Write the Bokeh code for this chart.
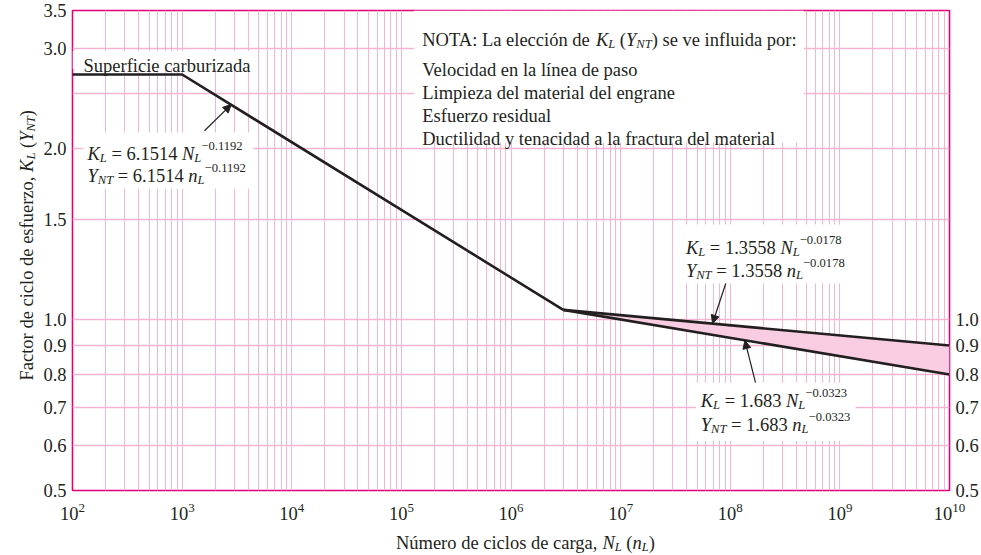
import math
from bokeh.plotting import figure
from bokeh.layouts import row, column
from bokeh.models import (Label, LogAxis, FixedTicker, PrintfTickFormatter, Arrow, NormalHead)
from bokeh.embed import file_html
from bokeh.resources import INLINE

# ---------------- data ----------------
cycles_carb = [1e2, 1e3, 3e6]          # carburized surface: flat then sloped
kl_carb = [2.70, 2.70, 1.04]
cycles_tail = [3e6, 1e10]               # high-cycle band
kl_upper = [1.04, 0.90]                 # K_L = 1.3558 N^-0.0178
kl_lower = [1.04, 0.80]                 # K_L = 1.683 N^-0.0323

y_tick_values = [0.5, 0.6, 0.7, 0.8, 0.9, 1.0, 1.5, 2.0, 3.0, 3.5]
y_grid_values = [0.5, 0.6, 0.7, 0.8, 0.9, 1.0, 1.5, 2.0, 2.5, 3.0, 3.5]
right_tick_values = [0.5, 0.6, 0.7, 0.8, 0.9, 1.0]
x_exponents = [2, 3, 4, 5, 6, 7, 8, 9, 10]

note_lines = ["Velocidad en la línea de paso",
              "Limpieza del material del engrane",
              "Esfuerzo residual",
              "Ductilidad y tenacidad a la fractura del material"]

# ---------------- style ----------------
FONT = "Liberation Serif"
TXT = "#231f20"
GRID = "#f4b4d2"
FRAME = "#e2007a"
BAND = "#f8cde1"
FS = 18.5

W_R = {' ': 250, '!': 333, '(': 333, ')': 333, ',': 250, '-': 333, '.': 250, ':': 278,
       '=': 564, '\u2212': 564, 'A': 722, 'D': 722, 'E': 611, 'F': 556, 'K': 722, 'L': 611,
       'N': 722, 'O': 722, 'S': 556, 'T': 611, 'V': 722, 'Y': 722,
       'a': 444, 'b': 500, 'c': 444, 'd': 500, 'e': 444, 'f': 333, 'g': 500, 'h': 500,
       'i': 278, 'j': 278, 'k': 500, 'l': 278, 'm': 778, 'n': 500, 'o': 500, 'p': 500,
       'q': 500, 'r': 333, 's': 389, 't': 278, 'u': 500, 'v': 500, 'w': 722, 'x': 500,
       'y': 500, 'z': 444, 'ú': 500, 'í': 278, 'ó': 500, 'é': 444, 'á': 444}
for d in "0123456789":
    W_R[d] = 500
W_I = {'K': 667, 'L': 556, 'N': 667, 'Y': 556, 'T': 556, 'n': 500}


def seg_width(text, italic, size):
    tot = 0
    for c in text:
        tot += (W_I.get(c, W_R.get(c, 500)) if italic else W_R.get(c, 500))
    return tot / 1000.0 * size


def rich(p, x, y, segs, size=FS, x0=0.0, y0=0.0, rotated=False):
    """segs: list of (text, italic, shift) with shift '', 'sub' or 'sup'."""
    off = 0.0
    for text, italic, shift in segs:
        s = size * 0.68 if shift else size
        lead = len(text) - len(text.lstrip(" "))
        off += seg_width(" " * lead, False, s)
        body = text.strip(" ")
        trail = len(text) - lead - len(body)
        dy = {'': 0.0, 'sub': -0.24 * size, 'sup': 0.43 * size}[shift]
        if rotated:
            xo, yo, ang = x0 - dy, y0 + off, math.pi / 2
        else:
            xo, yo, ang = x0 + off, y0 + dy, 0
        if body:
            p.add_layout(Label(x=x, y=y, x_offset=xo, y_offset=yo, text=body, angle=ang,
                               text_font=FONT, text_font_size=f"{s:.1f}px",
                               text_font_style="italic" if italic else "normal",
                               text_color=TXT, text_baseline="alphabetic",
                               text_align="left"))
        off += seg_width(body, italic, s) + seg_width(" " * trail, False, s)
    return off


YT_W = 40
MAIN_W, MAIN_H = 981 - YT_W, 530
p = figure(width=MAIN_W, height=MAIN_H, x_axis_type="log", y_axis_type="log",
           x_range=(1e2, 1e10), y_range=(0.5, 3.5),
           output_backend="svg", toolbar_location=None,
           min_border_left=71 - YT_W, min_border_right=32, min_border_top=10,
           min_border_bottom=40)
p.background_fill_color = "white"
p.border_fill_color = "white"
p.outline_line_color = FRAME
p.outline_line_width = 1.6

# axes
x_major = [10.0 ** e for e in x_exponents]
x_minor = [k * 10.0 ** e for e in x_exponents[:-1] for k in range(2, 10)]
p.xaxis.ticker = FixedTicker(ticks=x_major, minor_ticks=x_minor)
p.yaxis.ticker = FixedTicker(ticks=y_tick_values)
p.yaxis.formatter = PrintfTickFormatter(format="%.1f")

right = LogAxis(ticker=FixedTicker(ticks=right_tick_values),
                formatter=PrintfTickFormatter(format="%.1f"))
p.add_layout(right, "right")

for ax in [p.xaxis[0], p.yaxis[0], right]:
    ax.axis_line_color = None
    ax.major_tick_line_color = None
    ax.minor_tick_line_color = None
    ax.major_tick_out = 0
    ax.major_tick_in = 0
    ax.minor_tick_out = 0
    ax.minor_tick_in = 0
    ax.major_label_text_font = FONT
    ax.major_label_text_font_size = f"{FS}px"
    ax.major_label_text_color = TXT
    ax.major_label_standoff = 6
p.xaxis.major_label_standoff = 12

# grid
p.xgrid.ticker = FixedTicker(ticks=x_major, minor_ticks=x_minor)
p.xgrid.grid_line_color = GRID
p.xgrid.grid_line_width = 1
p.xgrid.minor_grid_line_color = GRID
p.xgrid.minor_grid_line_width = 1
p.ygrid.ticker = FixedTicker(ticks=y_grid_values)
p.ygrid.grid_line_color = GRID
p.ygrid.grid_line_width = 1.3

# white backing boxes for the annotations
box_left = [1e2, 1.26e2, 1.3e5, 3.54e7, 4.85e7]
box_right = [4.3e3, 4.46e3, 4.7e8, 1.08e9, 1.39e9]
box_bottom = [2.76, 1.70, 2.05, 1.157, 0.612]
box_top = [2.97, 2.134, 3.5, 1.47, 0.774]
p.quad(left=box_left, right=box_right, bottom=box_bottom, top=box_top,
       fill_color="white", line_color=None)

# band + curves
p.varea(x=cycles_tail, y1=kl_lower, y2=kl_upper, fill_color=BAND)
p.line(cycles_carb, kl_carb, line_color=TXT, line_width=2.6)
p.line(cycles_tail, kl_upper, line_color=TXT, line_width=2.6)
p.line(cycles_tail, kl_lower, line_color=TXT, line_width=2.6)

# arrows
for (xs, ys, xe, ye) in [(1.6e3, 2.15, 2.8e3, 2.39),
                         (9.1e7, 1.157, 6.9e7, 0.985),
                         (1.7e8, 0.774, 1.36e8, 0.918)]:
    p.add_layout(Arrow(x_start=xs, y_start=ys, x_end=xe, y_end=ye, line_color=TXT,
                       line_width=1.2,
                       end=NormalHead(size=8, fill_color=TXT, line_color=TXT, line_width=1)))

# texts inside the frame
rich(p, 1.26e2, 2.80, [("Superficie carburizada", False, '')])


def eq_block(x, y, coef, expo, dy=23):
    rich(p, x, y, [("K", True, ''), ("L", True, 'sub'), (f" = {coef} ", False, ''),
                   ("N", True, ''), ("L", True, 'sub'), (f"\u2212{expo}", False, 'sup')])
    rich(p, x, y, [("Y", True, ''), ("NT", True, 'sub'), (f" = {coef} ", False, ''),
                   ("n", True, ''), ("L", True, 'sub'), (f"\u2212{expo}", False, 'sup')],
         y0=-dy)


eq_block(1.37e2, 1.96, "6.1514", "0.1192", dy=22)
eq_block(3.94e7, 1.339, "1.3558", "0.0178")
eq_block(5.38e7, 0.72, "1.683", "0.0323", dy=24)

nx, ny = 1.55e5, 3.11
rich(p, nx, ny, [("NOTA: La elección de ", False, ''), ("K", True, ''), ("L", True, 'sub'),
                 (" (", False, ''), ("Y", True, ''), ("NT", True, 'sub'),
                 (")  se ve influida por:", False, '')])
for i, line in enumerate(note_lines):
    rich(p, nx, ny, [(line, False, '')], y0=-(30 + 23 * i))


# ---------------- axis titles in their own strips ----------------
def strip(w, h):
    f = figure(width=w, height=h, x_range=(0, w), y_range=(0, h),
               x_axis_location=None, y_axis_location=None,
               output_backend="svg", toolbar_location=None, min_border=0)
    f.grid.visible = False
    f.outline_line_color = None
    f.background_fill_color = "white"
    f.border_fill_color = "white"
    return f


XT_H = 555 - MAIN_H
xt = strip(MAIN_W, XT_H)
rich(xt, 387 - YT_W, XT_H - 12, [("Número de ciclos de carga, ", False, ''), ("N", True, ''),
                                 ("L", True, 'sub'), (" (", False, ''), ("n", True, ''),
                                 ("L", True, 'sub'), (")", False, '')])

yt = strip(YT_W, 555)
rich(yt, 26, 555 - 380, [("Factor de ciclo de esfuerzo, ", False, ''), ("K", True, ''),
                         ("L", True, 'sub'), (" (", False, ''), ("Y", True, ''),
                         ("NT", True, 'sub'), (")", False, '')], rotated=True)

layout = row(yt, column(p, xt, spacing=0), spacing=0)
open("out.html", "w").write(file_html(layout, INLINE))
